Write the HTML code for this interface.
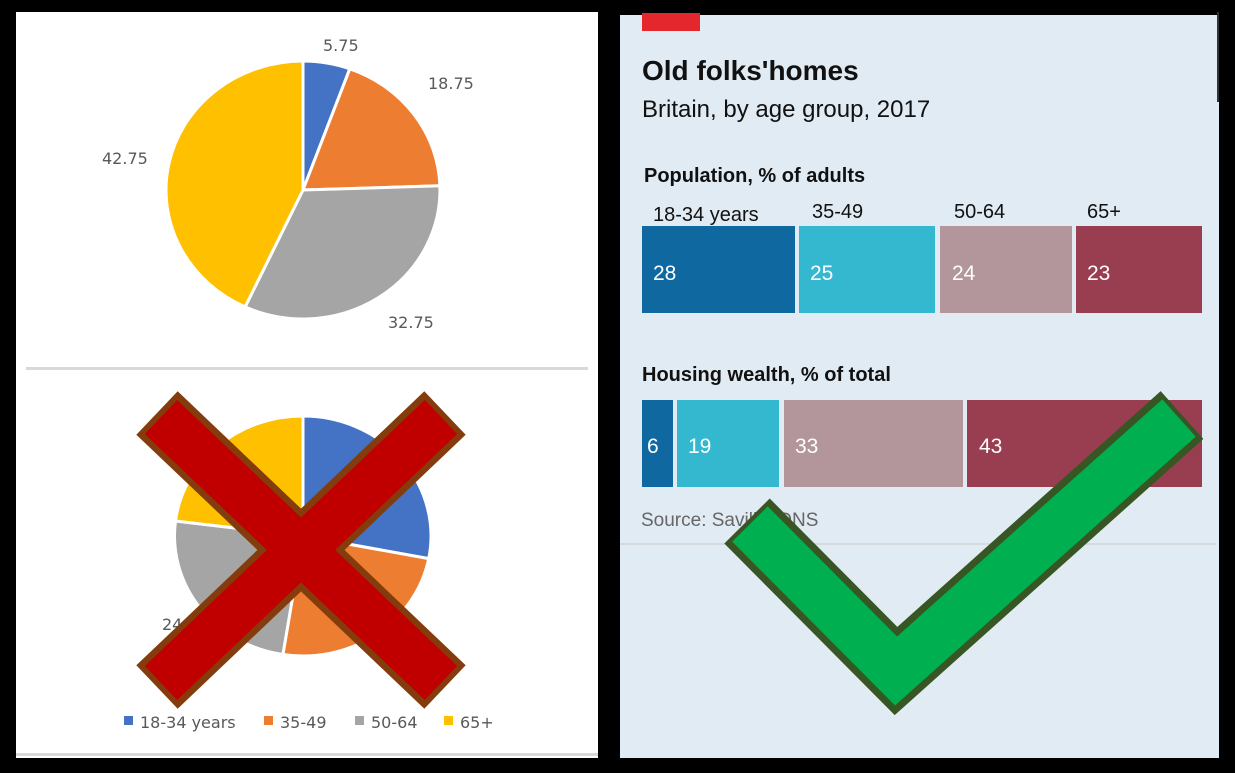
<!DOCTYPE html>
<html><head><meta charset="utf-8"><style>
html,body{margin:0;padding:0;background:#000;}
body{width:1235px;height:773px;position:relative;overflow:hidden;font-family:"Liberation Sans",sans-serif;}
</style></head><body>
<svg width="1235" height="773" viewBox="0 0 1235 773" xmlns="http://www.w3.org/2000/svg" style="position:absolute;left:0;top:0">
<rect x="0" y="0" width="1235" height="773" fill="#000"/>
<!-- left panel -->
<rect x="16" y="12" width="582" height="746" fill="#fff"/>
<rect x="26" y="367" width="562" height="3" fill="#d9d9d9"/>
<rect x="16" y="753" width="582" height="3" fill="#d9d9d9"/>
<!-- top pie: center 303,190 rx137 ry129 ; 5.75,18.75,32.75,42.75 -->
<g stroke="#fff" stroke-width="3" stroke-linejoin="round">
<path d="M303,190 L303,61 A137,129 0 0,1 349.8,68.8 Z" fill="#4472c4"/>
<path d="M303,190 L349.8,68.8 A137,129 0 0,1 439.9,185.8 Z" fill="#ed7d31"/>
<path d="M303,190 L439.9,185.8 A137,129 0 0,1 245.1,306.9 Z" fill="#a5a5a5"/>
<path d="M303,190 L245.1,306.9 A137,129 0 0,1 303,61 Z" fill="#ffc000"/>
</g>
<g font-size="16" fill="#595959" font-family="'DejaVu Sans',sans-serif">
<text x="323" y="51">5.75</text>
<text x="428" y="89">18.75</text>
<text x="102" y="164">42.75</text>
<text x="388" y="328">32.75</text>
</g>
<!-- bottom pie: center 303,536 rx128 ry120; 28,25,24,23 -->
<g stroke="#fff" stroke-width="3" stroke-linejoin="round">
<path d="M303,536 L303,416 A128,120 0 0,1 428.7,558.6 Z" fill="#4472c4"/>
<path d="M303,536 L428.7,558.6 A128,120 0 0,1 282.9,654.5 Z" fill="#ed7d31"/>
<path d="M303,536 L282.9,654.5 A128,120 0 0,1 175.5,521.0 Z" fill="#a5a5a5"/>
<path d="M303,536 L175.5,521.0 A128,120 0 0,1 303,416 Z" fill="#ffc000"/>
</g>
<text x="162" y="630" font-size="16" fill="#595959" font-family="'DejaVu Sans',sans-serif">24</text>
<!-- legend -->
<g font-size="16" fill="#595959" font-family="'DejaVu Sans',sans-serif">
<rect x="124" y="716" width="9" height="9" fill="#4472c4"/><text x="140" y="728">18-34 years</text>
<rect x="264" y="716" width="9" height="9" fill="#ed7d31"/><text x="280" y="728">35-49</text>
<rect x="355" y="716" width="9" height="9" fill="#a5a5a5"/><text x="371" y="728">50-64</text>
<rect x="444" y="716" width="9" height="9" fill="#ffc000"/><text x="460" y="728">65+</text>
</g>
<!-- red X -->
<g fill="none" stroke-linecap="butt">
<line x1="157" y1="413" x2="445" y2="687" stroke="#843c0c" stroke-width="60"/>
<line x1="445" y1="413" x2="157" y2="687" stroke="#843c0c" stroke-width="60"/>
<line x1="161" y1="417" x2="441" y2="683" stroke="#c00000" stroke-width="47"/>
<line x1="441" y1="417" x2="161" y2="683" stroke="#c00000" stroke-width="47"/>
</g>
<!-- right panel -->
<rect x="620" y="12" width="599" height="746" fill="#e1ebf3"/>
<rect x="620" y="12" width="599" height="3" fill="#000"/>
<rect x="1217" y="12" width="2" height="90" fill="#333"/>
<rect x="620" y="543" width="596" height="2" fill="#d6dade"/>
<rect x="642" y="13" width="58" height="18" fill="#e3272d"/>
<text x="642" y="80" font-size="28" font-weight="bold" fill="#111">Old folks'homes</text>
<text x="642" y="117" font-size="24" fill="#111">Britain, by age group, 2017</text>
<text x="644" y="182" font-size="20" font-weight="bold" fill="#111">Population,  % of adults</text>
<g font-size="20" fill="#111">
<text x="653" y="221">18-34 years</text>
<text x="812" y="218">35-49</text>
<text x="954" y="218">50-64</text>
<text x="1087" y="218">65+</text>
</g>
<rect x="642" y="226" width="153" height="87" fill="#1068a0"/>
<rect x="799" y="226" width="136" height="87" fill="#33b8d0"/>
<rect x="940" y="226" width="132" height="87" fill="#b3959c"/>
<rect x="1076" y="226" width="126" height="87" fill="#993e50"/>
<g font-size="21" fill="#fff">
<text x="653" y="280">28</text>
<text x="810" y="280">25</text>
<text x="952" y="280">24</text>
<text x="1087" y="280">23</text>
</g>
<text x="642" y="381" font-size="20" font-weight="bold" fill="#111">Housing wealth, % of total</text>
<rect x="642" y="400" width="31" height="87" fill="#1068a0"/>
<rect x="677" y="400" width="102" height="87" fill="#33b8d0"/>
<rect x="784" y="400" width="179" height="87" fill="#b3959c"/>
<rect x="967" y="400" width="235" height="87" fill="#993e50"/>
<g font-size="21" fill="#fff">
<text x="647" y="453">6</text>
<text x="688" y="453">19</text>
<text x="795" y="453">33</text>
<text x="979" y="453">43</text>
</g>
<text x="641" y="526" font-size="19" fill="#666">Source: Savills, ONS</text>
<!-- checkmark -->
<polyline points="747,521 896,671 1182,415" fill="none" stroke="#375623" stroke-width="64" stroke-linejoin="miter" stroke-miterlimit="10"/>
<polyline points="750,524 896,671 1179,418" fill="none" stroke="#00b050" stroke-width="50" stroke-linejoin="miter" stroke-miterlimit="10"/>
</svg>
</body></html>
